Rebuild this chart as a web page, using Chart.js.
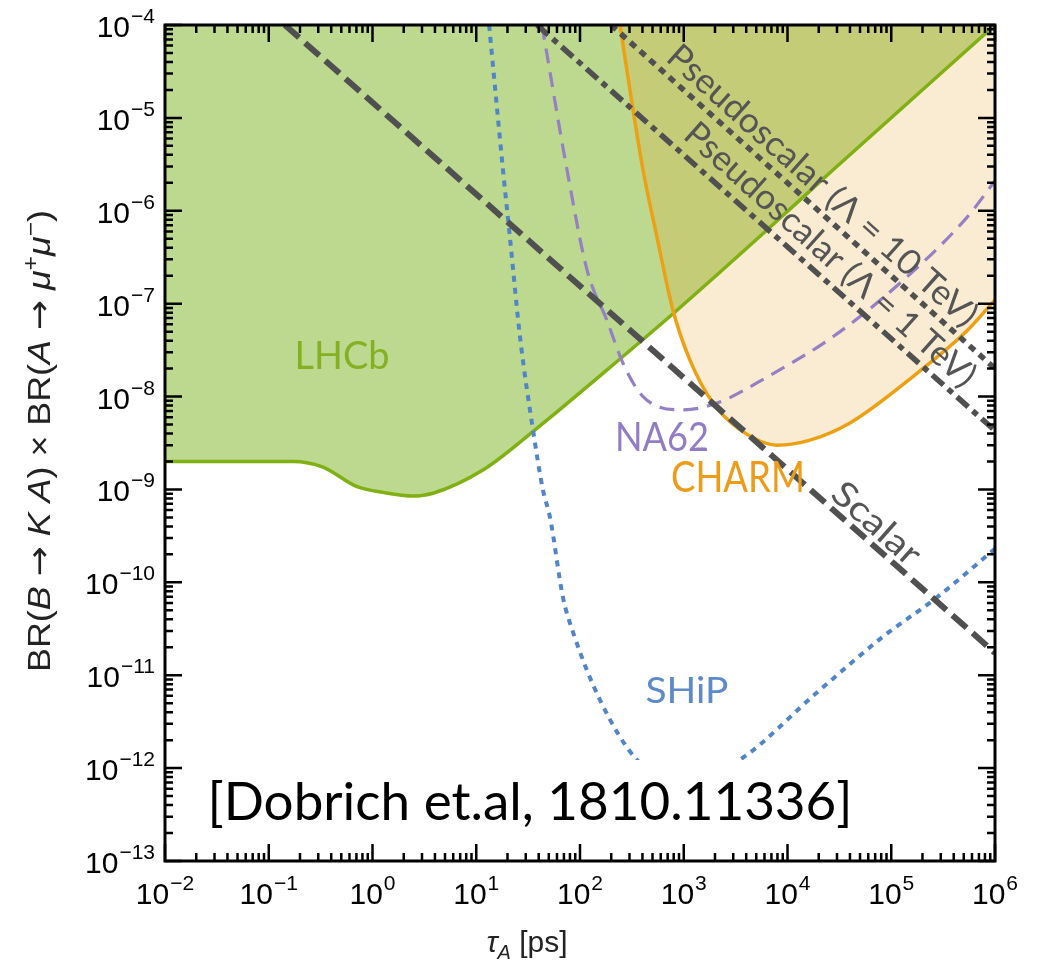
<!DOCTYPE html>
<html>
<head>
<meta charset="utf-8">
<script src="https://cdn.jsdelivr.net/npm/chart.js@4.4.1/dist/chart.umd.min.js"></script>
<style>
  html, body { margin: 0; padding: 0; background: #fff; }
</style>
</head>
<body>
<canvas id="plot" width="1047" height="968"></canvas>
<script>
// tau_A [ps] on x, BR(B->KA) x BR(A->mu mu) on y, both log
const lhcbTau = [1e-2, 0.171, 0.333, 0.71, 1.26, 2.45, 3.83, 11.6, 35.2, 259, 861, 6340, 27400, 1e6];
const lhcbBR  = [2.0e-9, 2.0e-9, 1.74e-9, 1.07e-9, 9.3e-10, 8.5e-10, 9.1e-10, 1.62e-9, 4.2e-9, 2.7e-8, 8.5e-8, 6.2e-7, 2.75e-6, 1e-4];

const charmTau = [243, 324, 405, 552, 787, 1150, 1914, 3480, 7930, 16500, 40000, 177000, 537000, 1e6];
const charmBR  = [1e-4, 1.23e-5, 2.75e-6, 5.2e-7, 8.5e-8, 2.45e-8, 8.5e-9, 4.4e-9, 3.0e-9, 3.4e-9, 5.2e-9, 1.78e-8, 5.1e-8, 1.1e-7];

const na62Tau = [43, 75, 117, 182, 259, 405, 984, 2090, 6340, 27400, 121000, 537000, 1e6];
const na62BR  = [1e-4, 2.75e-6, 2.3e-7, 6.6e-8, 2.3e-8, 1.0e-8, 7.2e-9, 8.5e-9, 1.62e-8, 4.4e-8, 1.66e-7, 8.5e-7, 2.1e-6];

const shipTau = [13.3, 18.1, 21.1, 26.4, 35.2, 44, 51.4, 68.5, 85.7, 156, 354, 1030, 3480, 19200, 83200, 276000, 1e6];
const shipBR  = [1e-4, 2.75e-6, 5.2e-7, 4.4e-8, 4.4e-9, 9.8e-10, 5.0e-10, 6.9e-11, 2.9e-11, 5.4e-12, 1.23e-12, 6.6e-13, 1.23e-12, 6.5e-12, 2.6e-11, 6.9e-11, 2.3e-10];

const scalarTau = [0.143, 1e6];
const scalarBR  = [1e-4, 1.74e-11];
const pseudo1Tau = [38.5, 1e6];
const pseudo1BR  = [1e-4, 4.3e-9];
const pseudo10Tau = [199, 1e6];
const pseudo10BR  = [1e-4, 2.0e-8];

const xTickExps = [-2, -1, 0, 1, 2, 3, 4, 5, 6];
const yTickExps = [-13, -12, -11, -10, -9, -8, -7, -6, -5, -4];

const pts = (xs, ys) => xs.map((v, i) => ({x: v, y: ys[i]}));

const GRAY = 'rgb(80,80,80)';
const GREEN = 'rgb(128,176,20)';
const ORANGE = 'rgb(236,160,20)';
const PURPLE = 'rgb(150,128,196)';
const BLUE = 'rgb(82,132,200)';

// text labels, anchored in data coordinates
const notes = [
  {text: 'LHCb', tau: 0.508, br: 2.8e-8, color: 'rgb(134,176,36)', capH: 28, width: 95},
  {text: 'NA62', tau: 617, br: 3.67e-9, color: 'rgb(146,124,196)', capH: 29, width: 94},
  {text: 'CHARM', tau: 3330, br: 1.36e-9, color: 'rgb(236,156,24)', capH: 30, width: 134},
  {text: 'SHiP', tau: 1074, br: 6.95e-12, color: 'rgb(94,138,202)', capH: 26, width: 83},
  {text: 'Scalar', tau: 72900, br: 4.36e-10, color: 'rgb(85,85,85)', capH: 25, width: 107, rot: true},
  {text: 'Pseudoscalar (\u039b = 10 TeV)', tau: 22000, br: 1.9e-6, color: 'rgb(85,85,85)', capH: 25, width: 403, rot: true},
  {text: 'Pseudoscalar (\u039b = 1 TeV)', tau: 26200, br: 3.43e-7, color: 'rgb(85,85,85)', capH: 25, width: 378, rot: true}
];

function fitText(ctx, text, cx, cy, o) {
  ctx.save();
  const size = o.capH / 0.716;
  ctx.font = size + 'px ' + o.family;
  const w = ctx.measureText(text).width;
  ctx.translate(cx, cy);
  if (o.angle) ctx.rotate(o.angle);
  ctx.scale(o.width / w, 1);
  ctx.fillStyle = o.color;
  ctx.textAlign = 'center';
  ctx.textBaseline = 'alphabetic';
  ctx.fillText(text, 0, o.capH / 2);
  ctx.restore();
}

// "10" with superscript exponent; cy = middle of the "10"
function drawPow(ctx, exp, x, cy, align) {
  const b = '10', e = (exp < 0 ? '\u2212' : '') + Math.abs(exp);
  ctx.font = '30px "Liberation Sans", Arial, sans-serif';
  const wb = ctx.measureText(b).width;
  ctx.font = '21px "Liberation Sans", Arial, sans-serif';
  const we = ctx.measureText(e).width;
  const total = wb + 1 + we;
  const x0 = align === 'right' ? x - total : x - total / 2;
  ctx.fillStyle = '#000';
  ctx.textAlign = 'left';
  ctx.textBaseline = 'alphabetic';
  ctx.font = '30px "Liberation Sans", Arial, sans-serif';
  ctx.fillText(b, x0, cy + 11);
  ctx.font = '21px "Liberation Sans", Arial, sans-serif';
  ctx.fillText(e, x0 + wb + 1, cy - 3);
}

// run of [text, style] pieces: 'n' normal, 'i' italic, 'sup', 'isub', 'arr'
function richText(ctx, parts, size, fam) {
  const fontOf = s => {
    if (s === 'arr') return size + 'px "DejaVu Sans", sans-serif';
    const small = (s === 'sup' || s === 'isub');
    const it = (s === 'i' || s === 'isub');
    return (it ? 'italic ' : '') + (small ? Math.round(size * 0.68) : size) + 'px ' + fam;
  };
  let w = 0;
  parts.forEach(p => { ctx.font = fontOf(p[1]); w += ctx.measureText(p[0]).width; });
  return {
    width: w,
    draw(x0, base) {
      let x = x0;
      parts.forEach(p => {
        ctx.font = fontOf(p[1]);
        let dy = 0;
        if (p[1] === 'sup') dy = -size * 0.38;
        if (p[1] === 'isub') dy = size * 0.22;
        ctx.fillText(p[0], x, base + dy);
        x += ctx.measureText(p[0]).width;
      });
    }
  };
}

const decor = {
  id: 'decor',
  afterDatasetsDraw(chart) {
    const {ctx, chartArea: a, scales: {x, y}} = chart;
    const px = v => x.getPixelForValue(v), py = v => y.getPixelForValue(v);

    // slope of a 1/tau line in pixels
    const ang = Math.atan2(py(1e-9) - py(1e-8), px(10) - px(1));

    // white box behind the citation
    ctx.save();
    ctx.fillStyle = '#fff';
    ctx.fillRect(192, 760, 680, 86);
    ctx.restore();

    // frame
    ctx.save();
    ctx.strokeStyle = '#000';
    ctx.lineWidth = 3;
    ctx.strokeRect(a.left, a.top, a.right - a.left, a.bottom - a.top);

    // inward ticks on all four sides
    ctx.lineWidth = 2.5;
    ctx.beginPath();
    const xTick = (v, len) => {
      const p = px(v);
      ctx.moveTo(p, a.bottom); ctx.lineTo(p, a.bottom - len);
      ctx.moveTo(p, a.top); ctx.lineTo(p, a.top + len);
    };
    const yTick = (v, len) => {
      const p = py(v);
      ctx.moveTo(a.left, p); ctx.lineTo(a.left + len, p);
      ctx.moveTo(a.right, p); ctx.lineTo(a.right - len, p);
    };
    xTickExps.forEach((e, i) => {
      xTick(Math.pow(10, e), 17);
      if (i < xTickExps.length - 1) for (let m = 2; m <= 9; m++) xTick(m * Math.pow(10, e), 8);
    });
    yTickExps.forEach((e, i) => {
      yTick(Math.pow(10, e), 17);
      if (i < yTickExps.length - 1) for (let m = 2; m <= 9; m++) yTick(m * Math.pow(10, e), 8);
    });
    ctx.stroke();
    ctx.restore();

    // tick labels
    ctx.save();
    xTickExps.forEach(e => drawPow(ctx, e, px(Math.pow(10, e)), 893, 'center'));
    yTickExps.forEach(e => drawPow(ctx, e, 155, py(Math.pow(10, e)) + 1, 'right'));
    ctx.restore();

    // curve labels
    notes.forEach(n => fitText(ctx, n.text, px(n.tau), py(n.br), {
      family: 'Lato, "Open Sans", sans-serif', capH: n.capH, width: n.width,
      color: n.color, angle: n.rot ? ang : 0
    }));

    // citation
    fitText(ctx, '[Dobrich et.al, 1810.11336]', 530, 801, {
      family: 'Lato, "Open Sans", sans-serif', capH: 38, width: 645, color: '#000'
    });

    // axis titles
    ctx.save();
    ctx.fillStyle = '#222';
    ctx.textAlign = 'left';
    ctx.textBaseline = 'alphabetic';
    const fam = '"Liberation Sans", Arial, sans-serif';
    const xt = richText(ctx, [['\u03c4', 'i'], ['A', 'isub'], [' [ps]', 'n']], 30, fam);
    xt.draw(527 - xt.width / 2, 952);
    const yt = richText(ctx, [
      ['BR(', 'n'], ['B', 'i'], [' ', 'n'], ['\u2192', 'arr'], [' ', 'n'], ['K', 'i'], [' ', 'n'], ['A', 'i'],
      [') \u00d7 BR(', 'n'], ['A', 'i'], [' ', 'n'], ['\u2192', 'arr'], [' ', 'n'], ['\u03bc', 'i'], ['+', 'sup'],
      ['\u03bc', 'i'], ['\u2212', 'sup'], [')', 'n']
    ], 32, fam);
    ctx.translate(50, 441);
    ctx.rotate(-Math.PI / 2);
    const sx = 462 / yt.width;
    ctx.scale(sx, 1);
    yt.draw(-yt.width / 2, 0);
    ctx.restore();
  }
};

const lineDs = (label, xs, ys, color, width, dash, extra) => Object.assign({
  label,
  data: pts(xs, ys),
  borderColor: color,
  borderWidth: width,
  borderDash: dash,
  borderCapStyle: 'butt',
  pointRadius: 0,
  fill: false,
  tension: 0
}, extra || {});

new Chart(document.getElementById('plot'), {
  type: 'line',
  data: {
    datasets: [
      lineDs('Scalar', scalarTau, scalarBR, GRAY, 6, [19, 8]),
      lineDs('Pseudoscalar 1 TeV', pseudo1Tau, pseudo1BR, GRAY, 5.5, [15, 6, 6, 6]),
      lineDs('Pseudoscalar 10 TeV', pseudo10Tau, pseudo10BR, GRAY, 5.5, [7, 6]),
      lineDs('SHiP', shipTau, shipBR, BLUE, 4, [6, 6], {cubicInterpolationMode: 'monotone'}),
      lineDs('NA62', na62Tau, na62BR, PURPLE, 3.2, [15, 9], {cubicInterpolationMode: 'monotone'}),
      lineDs('CHARM', charmTau, charmBR, ORANGE, 3.5, [], {
        cubicInterpolationMode: 'monotone', fill: 'end', backgroundColor: 'rgba(232,160,30,0.2)'
      }),
      lineDs('LHCb', lhcbTau, lhcbBR, GREEN, 3.5, [], {
        cubicInterpolationMode: 'monotone', fill: 'end', backgroundColor: 'rgb(189,216,143)'
      })
    ]
  },
  options: {
    responsive: false,
    animation: false,
    devicePixelRatio: 1,
    layout: {padding: {left: 0, top: 25, right: 52, bottom: 0}},
    plugins: {
      legend: {display: false},
      tooltip: {enabled: false},
      filler: {drawTime: 'beforeDatasetsDraw'}
    },
    scales: {
      x: {
        type: 'logarithmic', min: 1e-2, max: 1e6,
        grid: {display: false}, border: {display: false},
        ticks: {display: false},
        afterFit: s => { s.height = 107; }
      },
      y: {
        type: 'logarithmic', min: 1e-13, max: 1e-4,
        grid: {display: false}, border: {display: false},
        ticks: {display: false},
        afterFit: s => { s.width = 165; }
      }
    }
  },
  plugins: [decor]
});
</script>
</body>
</html>
